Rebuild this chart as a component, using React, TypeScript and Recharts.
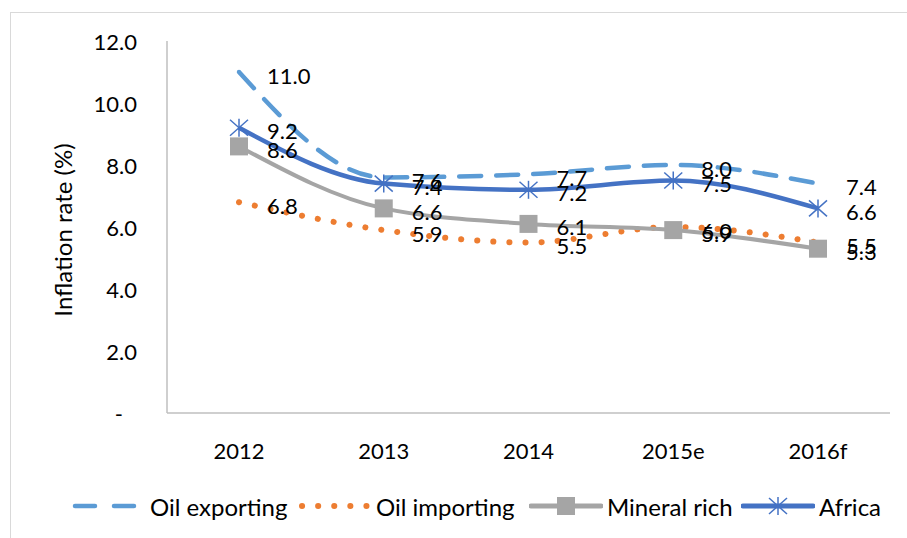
import React from "react";
import { LineChart, Line, XAxis, YAxis, Legend, LabelList } from "recharts";

const years = ["2012", "2013", "2014", "2015e", "2016f"];
const oilExporting = [11.0, 7.6, 7.7, 8.0, 7.4];
const oilImporting = [6.8, 5.9, 5.5, 6.0, 5.5];
const mineralRich = [8.6, 6.6, 6.1, 5.9, 5.3];
const africa = [9.2, 7.4, 7.2, 7.5, 6.6];
const yTicks = [0, 2, 4, 6, 8, 10, 12];

const data = years.map((year, i) => ({
  year,
  oilExporting: oilExporting[i],
  oilImporting: oilImporting[i],
  mineralRich: mineralRich[i],
  africa: africa[i],
}));

const FONT = "Lato, 'Liberation Sans', sans-serif";
const AXIS_COLOR = "#BFBFBF";

const COLORS = {
  oilExporting: "#5B9BD5",
  oilImporting: "#ED7D31",
  mineralRich: "#A5A5A5",
  africa: "#4472C4",
};

const SquareDot = (props: any) => {
  const { cx, cy } = props;
  if (cx == null || cy == null) return null;
  return <rect x={cx - 9} y={cy - 9} width={18} height={18} fill={COLORS.mineralRich} />;
};

const StarShape = ({ cx, cy }: { cx: number; cy: number }) => (
  <g stroke={COLORS.africa} strokeWidth={1.5} fill="none">
    <line x1={cx} y1={cy - 9} x2={cx} y2={cy + 9} />
    <line x1={cx - 9} y1={cy - 8} x2={cx + 9} y2={cy + 8} />
    <line x1={cx - 9} y1={cy + 8} x2={cx + 9} y2={cy - 8} />
  </g>
);

const StarDot = (props: any) => {
  const { cx, cy } = props;
  if (cx == null || cy == null) return null;
  return <StarShape cx={cx} cy={cy} />;
};

const DataLabel = (props: any) => {
  const { x, y, value } = props;
  if (x == null || y == null) return null;
  return (
    <text
      x={Number(x) + 28}
      y={Number(y) + 3}
      fontFamily={FONT}
      fontSize={22}
      fill="#000"
      dominantBaseline="central"
    >
      {Number(value).toFixed(1)}
    </text>
  );
};

const YTick = (props: any) => {
  const { x, y, payload } = props;
  const v = payload.value;
  return (
    <text
      x={v === 0 ? x - 14 : x}
      y={y}
      textAnchor="end"
      dominantBaseline="central"
      fontFamily={FONT}
      fontSize={22}
      fill="#000"
    >
      {v === 0 ? "-" : v.toFixed(1)}
    </text>
  );
};

const YLabel = (props: any) => {
  const { viewBox } = props;
  const cx = viewBox.x + 52;
  const cy = viewBox.y + viewBox.height / 2 + 3;
  return (
    <text
      x={cx}
      y={cy}
      transform={`rotate(-90, ${cx}, ${cy})`}
      textAnchor="middle"
      dominantBaseline="central"
      fontFamily={FONT}
      fontSize={24}
      fill="#000"
    >
      Inflation rate (%)
    </text>
  );
};

const legendItems = [
  { key: "oilExporting", label: "Oil exporting", width: 226 },
  { key: "oilImporting", label: "Oil importing", width: 231 },
  { key: "mineralRich", label: "Mineral rich", width: 212 },
  { key: "africa", label: "Africa", width: 150 },
];

const LegendSymbol = ({ kind }: { kind: string }) => {
  const w = 74;
  const cy = 10;
  if (kind === "oilExporting") {
    return (
      <svg width={w} height={20}>
        <line x1={3} y1={cy} x2={w} y2={cy} stroke={COLORS.oilExporting} strokeWidth={4.5} strokeDasharray="20 19" strokeLinecap="round" />
      </svg>
    );
  }
  if (kind === "oilImporting") {
    return (
      <svg width={w} height={20}>
        <line x1={4} y1={cy} x2={w} y2={cy} stroke={COLORS.oilImporting} strokeWidth={6} strokeDasharray="0.1 16" strokeLinecap="round" />
      </svg>
    );
  }
  if (kind === "mineralRich") {
    return (
      <svg width={w} height={20}>
        <line x1={2} y1={cy} x2={w - 2} y2={cy} stroke={COLORS.mineralRich} strokeWidth={5} strokeLinecap="round" />
        <rect x={w / 2 - 9} y={cy - 9} width={18} height={18} fill={COLORS.mineralRich} />
      </svg>
    );
  }
  return (
    <svg width={w} height={20}>
      <line x1={2} y1={cy} x2={w - 2} y2={cy} stroke={COLORS.africa} strokeWidth={5} strokeLinecap="round" />
      <StarShape cx={w / 2} cy={cy} />
    </svg>
  );
};

const CustomLegend = () => (
  <div style={{ height: 60, display: "flex", alignItems: "center", paddingLeft: 62, paddingTop: 6, boxSizing: "border-box" }}>
    {legendItems.map((item) => (
      <div key={item.key} style={{ width: item.width, flexShrink: 0, display: "flex", alignItems: "center" }}>
        <LegendSymbol kind={item.key} />
        <span style={{ fontFamily: FONT, fontSize: 24, color: "#000", marginLeft: 4, whiteSpace: "nowrap" }}>
          {item.label}
        </span>
      </div>
    ))}
  </div>
);

export default function App() {
  return (
    <div style={{ position: "absolute", left: 0, top: 0, width: 907, height: 538, overflow: "hidden", background: "#fff" }}>
      <div style={{ position: "absolute", left: 10, top: 12, width: 1200, height: 1200, border: "1px solid #D9D9D9" }} />
      <div style={{ position: "absolute", left: 0, top: 0 }}>
        <LineChart width={907} height={538} data={data} margin={{ top: 41, right: 17, left: 10, bottom: 5 }}>
          <XAxis
            dataKey="year"
            height={60}
            padding={{ left: 72, right: 72 }}
            axisLine={{ stroke: AXIS_COLOR, strokeWidth: 1.5 }}
            tickLine={false}
            tickSize={0}
            tickMargin={30}
            tick={{ fontFamily: FONT, fontSize: 22, fill: "#000" }}
            interval={0}
          />
          <YAxis
            width={157}
            domain={[0, 12]}
            ticks={yTicks}
            axisLine={{ stroke: AXIS_COLOR, strokeWidth: 1.5 }}
            tickLine={false}
            tickSize={0}
            tickMargin={30}
            tick={<YTick />}
            label={<YLabel />}
          />
          <Legend verticalAlign="bottom" content={<CustomLegend />} />
          <Line
            type="monotone"
            dataKey="oilExporting"
            stroke={COLORS.oilExporting}
            strokeWidth={4.5}
            strokeDasharray="22 15"
            strokeLinecap="round"
            dot={false}
            isAnimationActive={false}
          >
            <LabelList dataKey="oilExporting" content={<DataLabel />} />
          </Line>
          <Line
            type="monotone"
            dataKey="oilImporting"
            stroke={COLORS.oilImporting}
            strokeWidth={6}
            strokeDasharray="0.1 16"
            strokeLinecap="round"
            dot={false}
            isAnimationActive={false}
          >
            <LabelList dataKey="oilImporting" content={<DataLabel />} />
          </Line>
          <Line
            type="monotone"
            dataKey="mineralRich"
            stroke={COLORS.mineralRich}
            strokeWidth={4}
            dot={<SquareDot />}
            isAnimationActive={false}
          >
            <LabelList dataKey="mineralRich" content={<DataLabel />} />
          </Line>
          <Line
            type="monotone"
            dataKey="africa"
            stroke={COLORS.africa}
            strokeWidth={4.5}
            dot={<StarDot />}
            isAnimationActive={false}
          >
            <LabelList dataKey="africa" content={<DataLabel />} />
          </Line>
        </LineChart>
      </div>
    </div>
  );
}
